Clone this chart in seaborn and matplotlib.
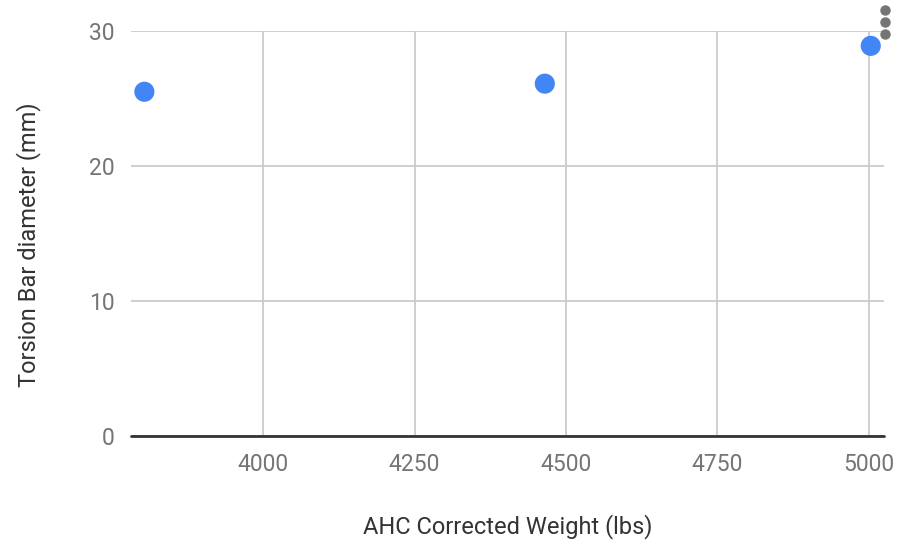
import pandas as pd
import seaborn as sns
import matplotlib.pyplot as plt
from matplotlib.lines import Line2D

weight = [3804, 4465, 5003]
diameter = [25.5, 26.1, 28.9]
x_ticks = [4000, 4250, 4500, 4750, 5000]
y_ticks = [0, 10, 20, 30]

data = pd.DataFrame({'weight': weight, 'diameter': diameter})

sns.set_style('white')
plt.rcParams['font.family'] = ['Roboto', 'DejaVu Sans']

fig = plt.figure(figsize=(9, 5.46), dpi=100)
ax = fig.add_axes([0.1456, 0.2015, 0.8367, 0.7417])

sns.scatterplot(data=data, x='weight', y='diameter', ax=ax, s=210,
                color='#4285f4', edgecolor='none', zorder=3, clip_on=False)

ax.set_xlim(3782, 5025)
ax.set_ylim(0, 30)
ax.set_xticks(x_ticks)
ax.set_yticks(y_ticks)
ax.grid(True, color='#cccccc', linewidth=1.3)
ax.axhline(0, color='#333333', linewidth=2, zorder=2, clip_on=False)
for s in ax.spines.values():
    s.set_visible(False)
ax.tick_params(length=0, labelsize=16.5, labelcolor='#757575', pad=12)
ax.tick_params(axis='y', pad=12)

ax.set_xlabel('AHC Corrected Weight (lbs)', size=17, color='#333333', labelpad=28)
ax.set_ylabel('Torsion Bar diameter (mm)', size=17, color='#333333')
ax.yaxis.set_label_coords(-0.12, 0.472)

# menu dots in the corner
fig.add_artist(Line2D([885 / 900] * 3, [1 - 10 / 546, 1 - 22 / 546, 1 - 34 / 546],
                      transform=fig.transFigure, linestyle='none', marker='o',
                      markersize=6.5, color='#757575'))

fig.savefig('out.png', dpi=100)
